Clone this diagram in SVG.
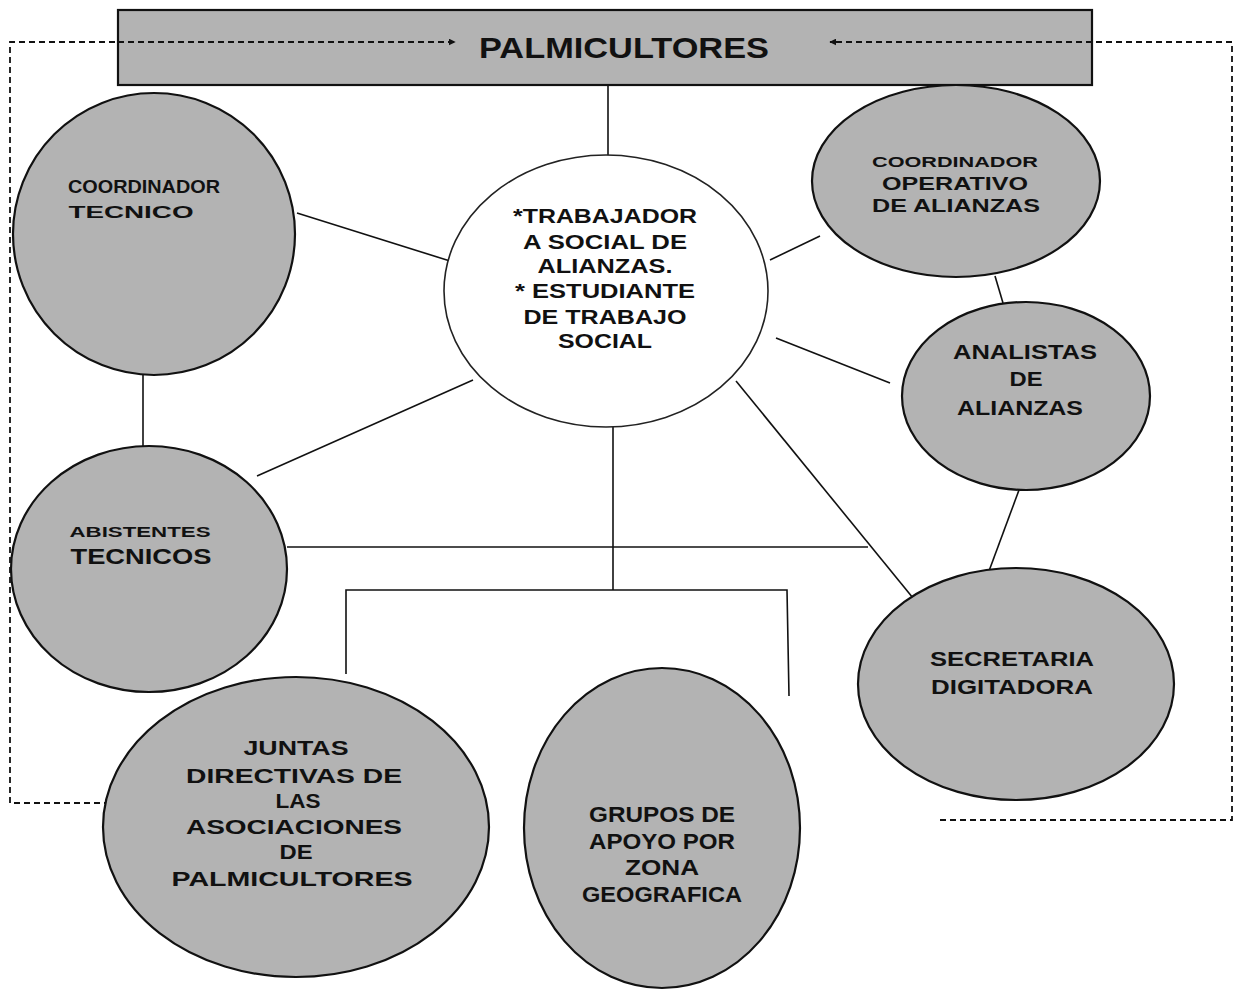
<svg xmlns="http://www.w3.org/2000/svg" width="1241" height="997" viewBox="0 0 1241 997">
<style>
.node{fill:#b3b3b3;stroke:#111;stroke-width:2.2}
.center{fill:#fff;stroke:#222;stroke-width:1.6}
.ln{stroke:#111;stroke-width:1.6;fill:none}
.dash{stroke:#111;stroke-width:1.8;fill:none;stroke-dasharray:6 4}
.t{font-family:"Liberation Sans",Arial,sans-serif;font-weight:bold;fill:#111;text-anchor:middle}
</style>
<defs>
<marker id="ah" viewBox="0 0 10 10" refX="9" refY="5" markerWidth="7" markerHeight="7" orient="auto" markerUnits="userSpaceOnUse">
<path d="M0,0 L10,5 L0,10 z" fill="#111"/>
</marker>
</defs>
<rect width="1241" height="997" fill="#fff"/>

<g id="connectors">
<path class="dash" d="M10,803 V42 H118"/>
<path class="dash" d="M130,803 H10"/>
<path class="dash" d="M940,820 H1232 V42 H1092"/>
<line class="ln" x1="608" y1="85" x2="608" y2="155"/>
<line class="ln" x1="297" y1="213" x2="450" y2="261"/>
<line class="ln" x1="143" y1="375" x2="143" y2="449"/>
<line class="ln" x1="473" y1="380" x2="257" y2="476"/>
<line class="ln" x1="770" y1="260" x2="820" y2="236"/>
<line class="ln" x1="995" y1="276" x2="1003" y2="303"/>
<line class="ln" x1="776" y1="338" x2="890" y2="383"/>
<line class="ln" x1="736" y1="381" x2="913" y2="598"/>
<line class="ln" x1="1019" y1="490" x2="989" y2="571"/>
<line class="ln" x1="287" y1="547" x2="868" y2="547"/>
<line class="ln" x1="613" y1="427" x2="613" y2="590"/>
<polyline class="ln" points="346,674 346,590 787,590 789,696"/>
</g>

<g id="header">
<rect x="118" y="10" width="974" height="75" class="node"/>
<line class="dash" x1="118" y1="42" x2="455" y2="42" marker-end="url(#ah)"/>
<line class="dash" x1="1092" y1="42" x2="830" y2="42" marker-end="url(#ah)"/>
<text class="t" x="624" y="58" font-size="30" textLength="290" lengthAdjust="spacingAndGlyphs">PALMICULTORES</text>
</g>

<g id="center">
<ellipse cx="606" cy="291" rx="162" ry="136" class="center"/>
<text class="t" x="605" y="223" font-size="20" textLength="184" lengthAdjust="spacingAndGlyphs">*TRABAJADOR</text>
<text class="t" x="605" y="249" font-size="20" textLength="164" lengthAdjust="spacingAndGlyphs">A SOCIAL DE</text>
<text class="t" x="605" y="273" font-size="20" textLength="135" lengthAdjust="spacingAndGlyphs">ALIANZAS.</text>
<text class="t" x="605" y="298" font-size="20" textLength="180" lengthAdjust="spacingAndGlyphs">* ESTUDIANTE</text>
<text class="t" x="605" y="324" font-size="20" textLength="163" lengthAdjust="spacingAndGlyphs">DE TRABAJO</text>
<text class="t" x="605" y="348" font-size="20" textLength="94" lengthAdjust="spacingAndGlyphs">SOCIAL</text>
</g>

<g id="coordinador-tecnico">
<ellipse cx="154" cy="234" rx="141" ry="141" class="node"/>
<text class="t" x="144" y="193" font-size="18" textLength="152" lengthAdjust="spacingAndGlyphs">COORDINADOR</text>
<text class="t" x="131" y="218" font-size="16" textLength="125" lengthAdjust="spacingAndGlyphs">TECNICO</text>
</g>

<g id="coordinador-operativo">
<ellipse cx="956" cy="181" rx="144" ry="96" class="node"/>
<text class="t" x="955" y="167" font-size="14" textLength="166" lengthAdjust="spacingAndGlyphs">COORDINADOR</text>
<text class="t" x="955" y="190" font-size="18" textLength="146" lengthAdjust="spacingAndGlyphs">OPERATIVO</text>
<text class="t" x="956" y="212" font-size="18" textLength="168" lengthAdjust="spacingAndGlyphs">DE ALIANZAS</text>
</g>

<g id="analistas">
<ellipse cx="1026" cy="396" rx="124" ry="94" class="node"/>
<text class="t" x="1025" y="359" font-size="20" textLength="144" lengthAdjust="spacingAndGlyphs">ANALISTAS</text>
<text class="t" x="1026" y="386" font-size="20" textLength="33" lengthAdjust="spacingAndGlyphs">DE</text>
<text class="t" x="1020" y="415" font-size="20" textLength="126" lengthAdjust="spacingAndGlyphs">ALIANZAS</text>
</g>

<g id="asistentes">
<ellipse cx="149" cy="569" rx="138" ry="123" class="node"/>
<text class="t" x="140" y="537" font-size="14" textLength="141" lengthAdjust="spacingAndGlyphs">ABISTENTES</text>
<text class="t" x="141" y="564" font-size="22" textLength="141" lengthAdjust="spacingAndGlyphs">TECNICOS</text>
</g>

<g id="secretaria">
<ellipse cx="1016" cy="684" rx="158" ry="116" class="node"/>
<text class="t" x="1012" y="666" font-size="20" textLength="164" lengthAdjust="spacingAndGlyphs">SECRETARIA</text>
<text class="t" x="1012" y="694" font-size="20" textLength="162" lengthAdjust="spacingAndGlyphs">DIGITADORA</text>
</g>

<g id="juntas">
<ellipse cx="296" cy="827" rx="193" ry="150" class="node"/>
<text class="t" x="296" y="755" font-size="21" textLength="105" lengthAdjust="spacingAndGlyphs">JUNTAS</text>
<text class="t" x="294" y="783" font-size="21" textLength="216" lengthAdjust="spacingAndGlyphs">DIRECTIVAS DE</text>
<text class="t" x="298" y="808" font-size="21" textLength="45" lengthAdjust="spacingAndGlyphs">LAS</text>
<text class="t" x="294" y="834" font-size="21" textLength="216" lengthAdjust="spacingAndGlyphs">ASOCIACIONES</text>
<text class="t" x="296" y="859" font-size="21" textLength="33" lengthAdjust="spacingAndGlyphs">DE</text>
<text class="t" x="292" y="886" font-size="21" textLength="241" lengthAdjust="spacingAndGlyphs">PALMICULTORES</text>
</g>

<g id="grupos">
<ellipse cx="662" cy="828" rx="138" ry="160" class="node"/>
<text class="t" x="662" y="822" font-size="22" textLength="146" lengthAdjust="spacingAndGlyphs">GRUPOS DE</text>
<text class="t" x="662" y="849" font-size="22" textLength="146" lengthAdjust="spacingAndGlyphs">APOYO POR</text>
<text class="t" x="662" y="875" font-size="22" textLength="74" lengthAdjust="spacingAndGlyphs">ZONA</text>
<text class="t" x="662" y="902" font-size="22" textLength="160" lengthAdjust="spacingAndGlyphs">GEOGRAFICA</text>
</g>
</svg>
